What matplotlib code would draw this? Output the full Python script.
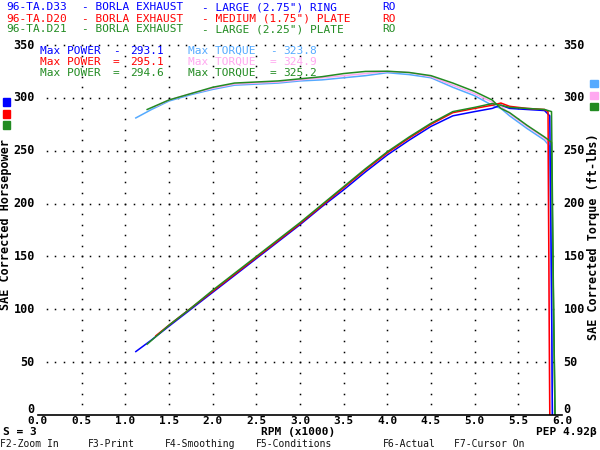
import matplotlib
matplotlib.use('Agg')
import matplotlib.pyplot as plt
import numpy as np

# run descriptions, colours and the max readouts
run_codes = ['96-TA.D33', '96-TA.D20', '96-TA.D21']
run_make = '- BORLA EXHAUST'
run_desc = ['- LARGE (2.75") RING', '- MEDIUM (1.75") PLATE', '- LARGE (2.25") PLATE']
power_colors = ['#0000ff', '#ff0000', '#228b22']
torque_colors = ['#55aaff', '#ffa8f0', '#228b22']
max_power = ['293.1', '295.1', '294.6']
max_torque = ['323.8', '324.9', '325.2']
max_sep = ['-', '=', '=']

# RPM (x1000) and readings, one set per run
rpm_d33 = [1.12, 1.3, 1.5, 1.75, 2.0, 2.25, 2.5, 2.75, 3.0, 3.25, 3.5, 3.75,
           4.0, 4.25, 4.5, 4.75, 5.0, 5.2, 5.3, 5.4, 5.6, 5.8, 5.86, 5.88, 5.89]
hp_d33 = [60, 71, 84, 100, 116, 132, 148, 164, 180, 197, 213, 230,
          246, 260, 273, 283, 287, 290, 293.1, 290, 289, 288, 283, 120, 0]
tq_d33 = [281, 289, 297, 303, 308, 312, 313, 314, 316, 317, 319, 321,
          323.8, 322, 319, 310, 302, 293, 290, 283, 271, 260, 254, 110, 0]

rpm_d20 = [1.35, 1.5, 1.75, 2.0, 2.25, 2.5, 2.75, 3.0, 3.25, 3.5, 3.75,
           4.0, 4.25, 4.5, 4.75, 5.0, 5.2, 5.3, 5.4, 5.6, 5.8, 5.84, 5.85, 5.86]
hp_d20 = [75, 85, 101, 117, 133, 149, 165, 181, 198, 215, 232,
          248, 262, 275, 286, 290, 293, 295.1, 292, 290, 289, 287, 140, 0]
tq_d20 = [292, 298, 304, 309, 313, 314, 315, 317, 319, 321, 323,
          324.9, 324, 320, 312, 304, 296, 292, 285, 273, 262, 258, 125, 0]

rpm_d21 = [1.25, 1.5, 1.75, 2.0, 2.25, 2.5, 2.75, 3.0, 3.25, 3.5, 3.75,
           4.0, 4.25, 4.5, 4.75, 5.0, 5.2, 5.3, 5.4, 5.6, 5.8, 5.88, 5.9, 5.92]
hp_d21 = [67, 85, 101, 118, 134, 150, 166, 182, 199, 216, 233,
          249, 263, 276, 287, 291, 294.6, 293, 291, 290, 289, 287, 130, 0]
tq_d21 = [289, 298, 304, 310, 314, 315, 316, 318, 320, 323, 325,
          325.2, 324, 321, 314, 306, 298, 290, 286, 274, 263, 258, 120, 0]

rpms = [rpm_d33, rpm_d20, rpm_d21]
powers = [hp_d33, hp_d20, hp_d21]
torques = [tq_d33, tq_d20, tq_d21]

x_ticks = [0.0, 0.5, 1.0, 1.5, 2.0, 2.5, 3.0, 3.5, 4.0, 4.5, 5.0, 5.5, 6.0]
y_ticks = [0, 50, 100, 150, 200, 250, 300, 350]
fkeys = ['F2-Zoom In', 'F3-Print', 'F4-Smoothing', 'F5-Conditions', 'F6-Actual', 'F7-Cursor On']

mono = 'DejaVu Sans Mono'
fig = plt.figure(figsize=(6, 4.5), dpi=100)
fig.patch.set_facecolor('white')
ax = fig.add_axes([38 / 600, 1 - 415 / 450, 524 / 600, 370 / 450])
ax.set_xlim(0, 6)
ax.set_ylim(0, 350)
for s in ['top', 'left', 'right']:
    ax.spines[s].set_visible(False)
ax.spines['bottom'].set_linewidth(1.2)

# dotted grid
for gx in np.arange(0.5, 5.6, 0.5):
    gy = np.arange(10, 345, 10)
    ax.plot(np.full(len(gy), gx), gy, ls='none', marker='s', ms=1.1, color='black', mew=0)
for gy in range(50, 351, 50):
    gx = np.arange(0.1, 5.95, 0.1)
    ax.plot(gx, np.full(len(gx), gy), ls='none', marker='s', ms=1.1, color='black', mew=0,
            clip_on=False)

for r, hp, tq, pc, tc in zip(rpms, powers, torques, power_colors, torque_colors):
    ax.plot(r, tq, color=tc, lw=1.1)
    ax.plot(r, hp, color=pc, lw=1.1)

ax.set_xticks(x_ticks)
ax.set_xticklabels(['%.1f' % v for v in x_ticks])
ax.set_yticks([])
ax.tick_params(axis='x', length=0, pad=0.5, labelsize=8)
for lab in ax.get_xticklabels():
    lab.set_family(mono)
    lab.set_fontweight('bold')

# y labels on both sides, the zero sits just above the base line
ytr = ax.get_yaxis_transform()
for v in y_ticks:
    yv = 5 if v == 0 else v
    ax.text(-0.006, yv, str(v), transform=ytr, ha='right', va='center',
            fontsize=8.5, family=mono, fontweight='bold')
    ax.text(1.003, yv, str(v), transform=ytr, ha='left', va='center',
            fontsize=8.5, family=mono, fontweight='bold')

# header lines
for i in range(3):
    y = 1 - (7.5 + 11 * i) / 450
    c = power_colors[i]
    fig.text(6 / 600, y, run_codes[i], color=c, fontsize=8, family=mono, va='center')
    fig.text(82 / 600, y, run_make, color=c, fontsize=8, family=mono, va='center')
    fig.text(202 / 600, y, run_desc[i], color=c, fontsize=8, family=mono, va='center')
    fig.text(382 / 600, y, 'RO', color=c, fontsize=8, family=mono, va='center')

# max readouts
for i in range(3):
    y = 1 - (51 + 11 * i) / 450
    pc, tc = power_colors[i], torque_colors[i]
    fig.text(40 / 600, y, 'Max POWER', color=pc, fontsize=8, family=mono, va='center')
    fig.text(113 / 600, y, max_sep[i], color=pc, fontsize=8, family=mono, va='center')
    fig.text(130 / 600, y, max_power[i], color=pc, fontsize=8, family=mono, va='center')
    fig.text(188 / 600, y, 'Max TORQUE', color=tc, fontsize=8, family=mono, va='center')
    fig.text(270 / 600, y, max_sep[i], color=tc, fontsize=8, family=mono, va='center')
    fig.text(283 / 600, y, max_torque[i], color=tc, fontsize=8, family=mono, va='center')

# axis titles and colour keys
fig.text(6 / 600, 1 - 225 / 450, 'SAE Corrected Horsepower', rotation=90,
         fontsize=8.5, family=mono, fontweight='bold', ha='center', va='center')
fig.text(594 / 600, 1 - 237 / 450, 'SAE Corrected Torque (ft-lbs)', rotation=90,
         fontsize=8.5, family=mono, fontweight='bold', ha='center', va='center')
for i in range(3):
    fig.patches.append(plt.Rectangle((3 / 600, 1 - (106 + 11.5 * i) / 450), 7 / 600, 8 / 450,
                                     transform=fig.transFigure, color=power_colors[i]))
    fig.patches.append(plt.Rectangle((590 / 600, 1 - (87 + 11.5 * i) / 450), 8 / 600, 7 / 450,
                                     transform=fig.transFigure, color=torque_colors[i]))

# footer
fig.text(3 / 600, 1 - 432 / 450, 'S = 3', fontsize=8, family=mono, fontweight='bold', va='center')
fig.text(298 / 600, 1 - 432 / 450, 'RPM (x1000)', fontsize=8, family=mono, fontweight='bold',
         va='center', ha='center')
fig.text(597 / 600, 1 - 432 / 450, 'PEP 4.92\u03b2', fontsize=8, family=mono, fontweight='bold',
         va='center', ha='right')
fkey_x = [0, 88, 165, 256, 383, 454]
for fx, fk in zip(fkey_x, fkeys):
    fig.text(fx / 600, 1 - 444 / 450, fk, fontsize=7, family=mono, va='center', color='#111111')

fig.savefig('out.png', dpi=100, facecolor='white')
